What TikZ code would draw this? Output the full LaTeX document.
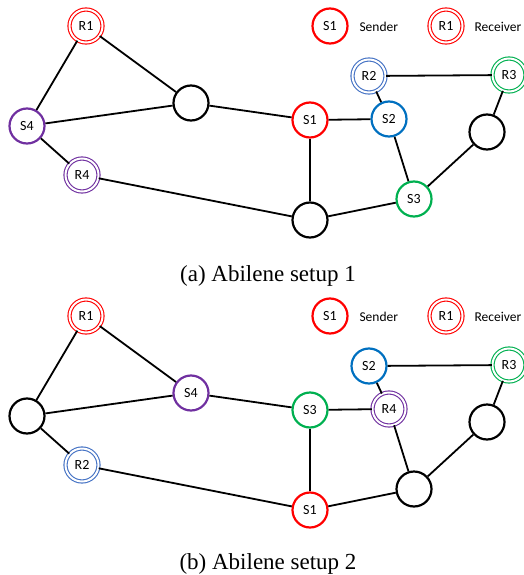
\documentclass[tikz,border=0pt]{standalone}
\usepackage{fontspec}
\setmainfont{Liberation Serif}
\newfontfamily\labelfont{Carlito}
\definecolor{sred}{HTML}{FF0000}
\definecolor{sblue}{HTML}{0070C0}
\definecolor{rblue}{HTML}{4472C4}
\definecolor{sgreen}{HTML}{00B050}
\definecolor{spurple}{HTML}{7030A0}
\begin{document}
\begin{tikzpicture}[x=1pt, y=-1pt,
  router/.style={circle, draw=black, line width=2.2pt, minimum size=35pt, inner sep=0pt, font=\labelfont\fontsize{14}{14}\selectfont},
  sender/.style={router, draw=#1},
  receiver/.style={circle, draw=#1, line width=1.1pt, double=white, double distance=2pt, minimum size=33pt, inner sep=0pt, font=\labelfont\fontsize{14}{14}\selectfont},
  link/.style={line width=1.8pt},
  legend/.style={anchor=west, font=\labelfont\fontsize{13.5}{13.5}\selectfont},
  caption/.style={anchor=base, font=\fontsize{23}{23}\selectfont}]

\useasboundingbox ( 0, 0 ) rectangle ( 524, 575 );

%% Setup 1
% Legend
\node (lgS) at ( 330, 26 ) [sender=sred] {S1};
\node (lgSt) at ( 356, 27 ) [legend] {Sender};
\node (lgR) at ( 446, 26 ) [receiver=sred] {R1};
\node (lgRt) at ( 471, 27 ) [legend] {Receiver};

% Nodes
\node (aR1) at ( 86, 26 ) [receiver=sred] {R1};
\node (aA) at ( 191, 103 ) [router] {};
\node (aS4) at ( 27, 126 ) [sender=spurple] {S4};
\node (aR4) at ( 82, 175 ) [receiver=spurple] {R4};
\node (aS1) at ( 310, 120 ) [sender=sred] {S1};
\node (aS2) at ( 389, 119 ) [sender=sblue] {S2};
\node (aR2) at ( 369, 76 ) [receiver=rblue] {R2};
\node (aR3) at ( 509, 75 ) [receiver=sgreen] {R3};
\node (aB) at ( 487, 132 ) [router] {};
\node (aS3) at ( 414, 199 ) [sender=sgreen] {S3};
\node (aC) at ( 310, 220 ) [router] {};

% Links
\draw [link] (aR1) -- (aA);
\draw [link] (aR1) -- (aS4);
\draw [link] (aS4) -- (aA);
\draw [link] (aS4) -- (aR4);
\draw [link] (aA) -- (aS1);
\draw [link] (aR4) -- (aC);
\draw [link] (aS1) -- (aC);
\draw [link] (aS1) -- (aS2);
\draw [link] (aS2) -- (aR2);
\draw [link] (aR2) -- (aR3);
\draw [link] (aS2) -- (aS3);
\draw [link] (aS3) -- (aC);
\draw [link] (aS3) -- (aB);
\draw [link] (aB) -- (aR3);

\node (capA) at ( 268, 281 ) [caption] {(a) Abilene setup 1};

%% Setup 2
% Legend
\node (lgS2) at ( 330, 316 ) [sender=sred] {S1};
\node (lgSt2) at ( 356, 317 ) [legend] {Sender};
\node (lgR2) at ( 446, 316 ) [receiver=sred] {R1};
\node (lgRt2) at ( 471, 317 ) [legend] {Receiver};

% Nodes
\node (bR1) at ( 86, 316 ) [receiver=sred] {R1};
\node (bS4) at ( 191, 393 ) [sender=spurple] {S4};
\node (bA) at ( 27, 416 ) [router] {};
\node (bR2) at ( 82, 465 ) [receiver=rblue] {R2};
\node (bS3) at ( 310, 410 ) [sender=sgreen] {S3};
\node (bR4) at ( 389, 409 ) [receiver=spurple] {R4};
\node (bS2) at ( 369, 366 ) [sender=sblue] {S2};
\node (bR3) at ( 509, 365 ) [receiver=sgreen] {R3};
\node (bB) at ( 487, 422 ) [router] {};
\node (bC) at ( 414, 489 ) [router] {};
\node (bS1) at ( 310, 510 ) [sender=sred] {S1};

% Links
\draw [link] (bR1) -- (bS4);
\draw [link] (bR1) -- (bA);
\draw [link] (bA) -- (bS4);
\draw [link] (bA) -- (bR2);
\draw [link] (bS4) -- (bS3);
\draw [link] (bR2) -- (bS1);
\draw [link] (bS3) -- (bS1);
\draw [link] (bS3) -- (bR4);
\draw [link] (bR4) -- (bS2);
\draw [link] (bS2) -- (bR3);
\draw [link] (bR4) -- (bC);
\draw [link] (bC) -- (bS1);
\draw [link] (bC) -- (bB);
\draw [link] (bB) -- (bR3);

\node (capB) at ( 268, 569 ) [caption] {(b) Abilene setup 2};

\end{tikzpicture}
\end{document}
